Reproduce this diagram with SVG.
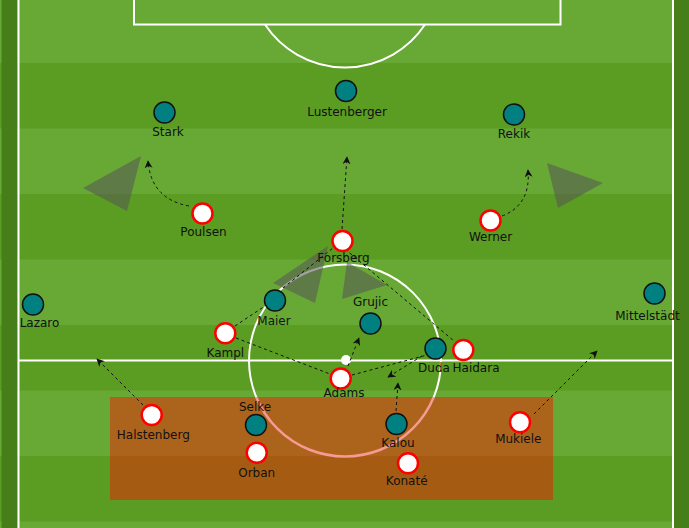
<svg xmlns="http://www.w3.org/2000/svg" width="689" height="528" viewBox="0 0 689 528">
<defs>
<style>
.lt{fill:#68a935}
.dk{fill:#5b9c22}
.line{stroke:#fff;stroke-width:2;fill:none}
.tri{fill:#555;fill-opacity:0.55}
.teal{fill:#008080;stroke:#111;stroke-width:1.5}
.opp{fill:#fff;stroke:#f00;stroke-width:2.5}
.lbl{font-family:"DejaVu Sans",Verdana,sans-serif;font-size:12px;fill:#111;text-anchor:middle}
.dash{stroke:#111;stroke-width:1;stroke-dasharray:3,3;fill:none}
.arr{marker-end:url(#ah)}
</style>
<marker id="ah" viewBox="0 0 10 10" refX="9" refY="5" markerWidth="8" markerHeight="8" markerUnits="userSpaceOnUse" orient="auto">
<path d="M0,0 L10,5 L0,10 L3,5 z" fill="#111"/>
</marker>
<clipPath id="inRect"><rect x="110" y="397" width="443" height="103"/></clipPath>
<clipPath id="outRect"><path d="M0,0 H689 V528 H0 Z M110,397 V500 H553 V397 Z" clip-rule="evenodd"/></clipPath>
</defs>
<g id="pitch">
<rect x="0" y="0" width="689" height="528" class="lt"/>
<rect x="0" y="63" width="689" height="65.5" class="dk"/>
<rect x="0" y="194" width="689" height="65.5" class="dk"/>
<rect x="0" y="325" width="689" height="65.5" class="dk"/>
<rect x="0" y="456" width="689" height="65.5" class="dk"/>
<rect x="1.5" y="0" width="16" height="528" fill="#467f19"/>
<rect x="674" y="0" width="15" height="528" fill="#467f19"/>
<line x1="18.5" y1="0" x2="18.5" y2="528" class="line"/>
<line x1="673" y1="0" x2="673" y2="528" class="line"/>
<rect x="134" y="-5" width="426.5" height="29.5" class="line"/>
<path d="M265,24.5 A96,96 0 0 0 425,24.5" class="line"/>
<line x1="18.5" y1="360.5" x2="673" y2="360.5" class="line"/>
</g>
<g id="zone">
<rect x="110" y="397" width="443" height="103" fill="#ff1000" fill-opacity="0.45"/>
</g>
<g id="centre-circle">
<circle cx="345" cy="360.5" r="96" class="line" stroke-width="2.5" clip-path="url(#outRect)"/>
<circle cx="345" cy="360.5" r="96" fill="none" stroke="#f59a94" stroke-width="2.5" clip-path="url(#inRect)"/>
<circle cx="346" cy="360" r="5" fill="#fff"/>
</g>
<g id="triangles">
<polygon points="83,188 141,156 127,211" class="tri"/>
<polygon points="547,163 603,183 558,208" class="tri"/>
<polygon points="273,283 328,246 315,303" class="tri"/>
<polygon points="342,299 347,262 387,285" class="tri"/>
</g>
<g id="connectors">
<path d="M189,206 Q151,199 148,161" class="dash arr"/>
<path d="M502,216 Q531,205 528,170" class="dash arr"/>
<path d="M342,229 L347,157" class="dash arr"/>
<path d="M283,288 L333,248" class="dash"/>
<path d="M235,326 L265,306" class="dash"/>
<path d="M236,338 L330,374" class="dash"/>
<path d="M345,249 L454,341" class="dash"/>
<path d="M348,366 L359,338" class="dash arr"/>
<path d="M352,375 L427,355" class="dash"/>
<path d="M422,356 L388,377" class="dash arr"/>
<path d="M396,411 L398,383" class="dash arr"/>
<path d="M143,405 L97,359" class="dash arr"/>
<path d="M534,414 L597,351" class="dash arr"/>
</g>
<g id="stark"><circle cx="164.5" cy="112.5" r="10.5" class="teal"/><text x="168" y="136" class="lbl">Stark</text></g>
<g id="lustenberger"><circle cx="346" cy="91" r="10.5" class="teal"/><text x="347" y="116" class="lbl">Lustenberger</text></g>
<g id="rekik"><circle cx="514" cy="114.5" r="10.5" class="teal"/><text x="514" y="138" class="lbl">Rekik</text></g>
<g id="lazaro"><circle cx="33" cy="304.5" r="10.5" class="teal"/><text x="39.5" y="327" class="lbl">Lazaro</text></g>
<g id="maier"><circle cx="275" cy="300.5" r="10.5" class="teal"/><text x="274" y="324.5" class="lbl">Maier</text></g>
<g id="grujic"><circle cx="370.5" cy="323.5" r="10.5" class="teal"/><text x="370.5" y="306" class="lbl">Grujic</text></g>
<g id="duda"><circle cx="435.5" cy="348.5" r="10.5" class="teal"/><text x="434" y="371.5" class="lbl">Duda</text></g>
<g id="selke"><circle cx="256" cy="425" r="10.5" class="teal"/><text x="255" y="411" class="lbl">Selke</text></g>
<g id="kalou"><circle cx="396.5" cy="424" r="10.5" class="teal"/><text x="398" y="446.5" class="lbl">Kalou</text></g>
<g id="mittelstaedt"><circle cx="654.5" cy="293.5" r="10.5" class="teal"/><text x="647.5" y="320" class="lbl">Mittelstädt</text></g>
<g id="poulsen"><circle cx="202.5" cy="213.5" r="10" class="opp"/><text x="203.5" y="236" class="lbl">Poulsen</text></g>
<g id="forsberg"><circle cx="342.5" cy="241" r="10" class="opp"/><text x="343.5" y="262" class="lbl">Forsberg</text></g>
<g id="werner"><circle cx="490.5" cy="220.5" r="10" class="opp"/><text x="490.5" y="241" class="lbl">Werner</text></g>
<g id="kampl"><circle cx="225.3" cy="333.3" r="10" class="opp"/><text x="225.3" y="357" class="lbl">Kampl</text></g>
<g id="adams"><circle cx="340.7" cy="378.5" r="10" class="opp"/><text x="344" y="397" class="lbl">Adams</text></g>
<g id="haidara"><circle cx="463.3" cy="350" r="10" class="opp"/><text x="476" y="371.5" class="lbl">Haidara</text></g>
<g id="halstenberg"><circle cx="151.7" cy="415" r="10" class="opp"/><text x="153.3" y="439" class="lbl">Halstenberg</text></g>
<g id="orban"><circle cx="256.7" cy="452.7" r="10" class="opp"/><text x="256.7" y="477" class="lbl">Orban</text></g>
<g id="konate"><circle cx="408" cy="463.3" r="10" class="opp"/><text x="406.7" y="484.5" class="lbl">Konaté</text></g>
<g id="mukiele"><circle cx="520" cy="422.3" r="10" class="opp"/><text x="518.3" y="443" class="lbl">Mukiele</text></g>
</svg>
